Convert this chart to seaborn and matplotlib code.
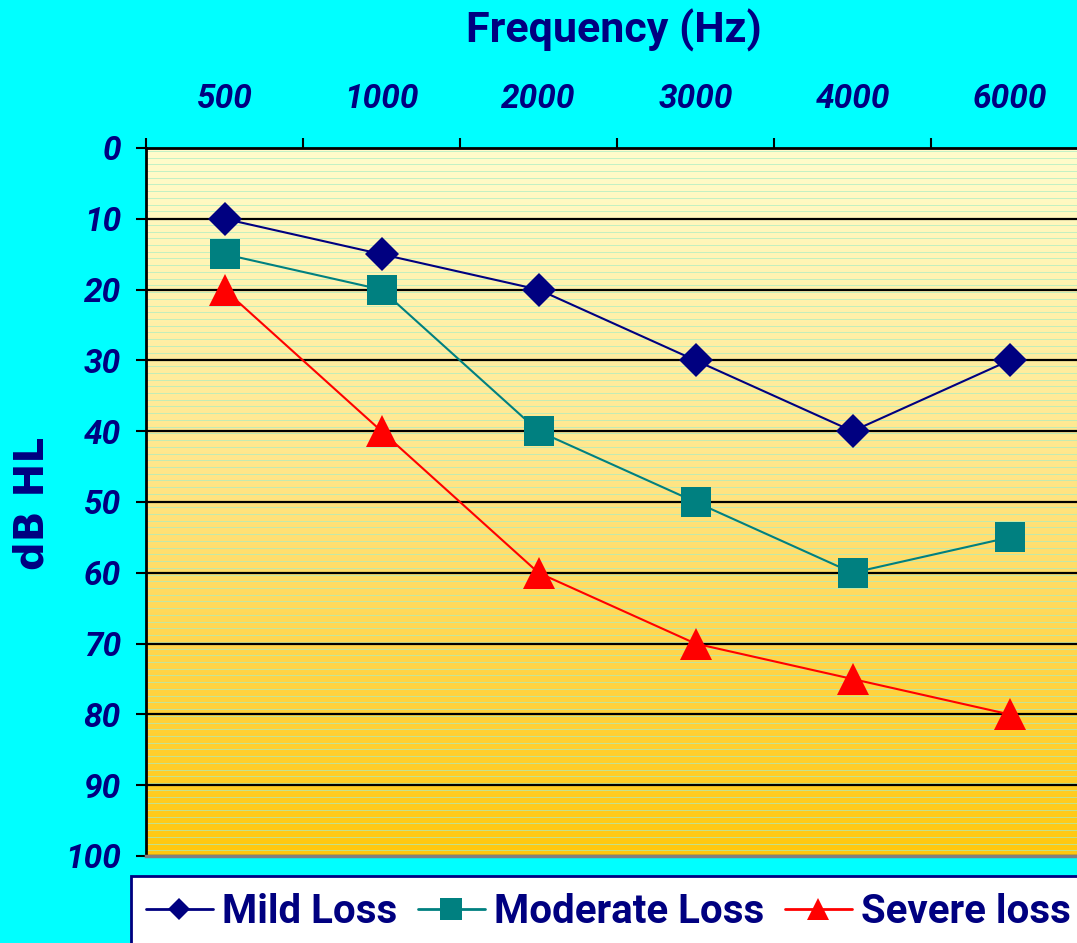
import numpy as np
import pandas as pd
import matplotlib
matplotlib.use("Agg")
import matplotlib.pyplot as plt
import seaborn as sns
from matplotlib.colors import LinearSegmentedColormap
from matplotlib.patches import Rectangle
from matplotlib.lines import Line2D
from matplotlib.font_manager import FontProperties

# ---------------- data ----------------
frequencies = ["500", "1000", "2000", "3000", "4000", "6000"]
mild_loss = [10, 15, 20, 30, 40, 30]
moderate_loss = [15, 20, 40, 50, 60, 55]
severe_loss = [20, 40, 60, 70, 75, 80]
series_names = ["Mild Loss", "Moderate Loss", "Severe loss"]
y_ticks = [0, 10, 20, 30, 40, 50, 60, 70, 80, 90, 100]

df = pd.DataFrame({
    "Frequency": frequencies * 3,
    "dB": mild_loss + moderate_loss + severe_loss,
    "Series": [series_names[0]] * 6 + [series_names[1]] * 6 + [series_names[2]] * 6,
})

# ---------------- style ----------------
NAVY = "#000080"
TEAL = "#008080"
RED = "#FF0000"
CYAN = "#00FFFF"
colors = [NAVY, TEAL, RED]
markers = ["D", "s", "^"]
plot_ms = [17.5, 22, 23]
legend_ms = [11.5, 16, 16.5]

sns.set_theme(style="white")
plt.rcParams["font.family"] = ["Roboto", "DejaVu Sans"]

W, H = 1077, 943
fig = plt.figure(figsize=(W / 100, H / 100), dpi=100, facecolor=CYAN)
L, R, T, B = 146, 1088, 148, 856
ax = fig.add_axes([L / W, 1 - B / H, (R - L) / W, (B - T) / H])
ax.set_facecolor("#FFFCCC")

# background gradient + thin stripes
cmap = LinearSegmentedColormap.from_list(
    "bg", [(0.0, "#FFFCCC"), (0.45, "#FFE68A"), (0.72, "#FFD54A"), (1.0, "#FFC80E")])
grad = np.linspace(0, 1, 256).reshape(-1, 1)
ax.imshow(grad, cmap=cmap, aspect="auto", extent=(-0.5, 5.5, 100, 0),
          zorder=0, interpolation="bilinear")
for yv in np.arange(0.4, 100, 0.95):
    ax.axhline(yv, color="#A6EDC4", lw=0.6, alpha=0.8, zorder=0.5)

n0 = len(ax.lines)
sns.pointplot(data=df, x="Frequency", y="dB", hue="Series", order=frequencies,
              hue_order=series_names, palette=colors, markers=markers,
              linestyles=["-", "-", "-"], errorbar=None, ax=ax, legend=False)
new_lines = ax.lines[n0:]
for ln, ms in zip(new_lines, plot_ms):
    ln.set_markersize(ms)
    ln.set_markeredgewidth(0)
    ln.set_linewidth(1.5)
    ln.set_zorder(3)

ax.set_xlim(-0.5, 5.5)
ax.set_ylim(100, 0)

# grid
ax.yaxis.grid(True, color="black", lw=1.6, zorder=1.5)
ax.xaxis.grid(False)

# spines
for s in ["left", "top"]:
    ax.spines[s].set_color("black")
    ax.spines[s].set_linewidth(2)
ax.spines["right"].set_visible(False)
ax.spines["bottom"].set_color("#808080")
ax.spines["bottom"].set_linewidth(2.5)

# x ticks on top: boundaries as major ticks, labels at centers (minor)
ax.xaxis.tick_top()
ax.set_xticks(np.arange(-0.5, 6, 1))
ax.set_xticklabels([])
ax.set_xticks(range(len(frequencies)), minor=True)
ax.set_xticklabels(frequencies, minor=True)
ax.tick_params(axis="x", which="major", direction="out", length=7, width=1.5,
               color="black", top=True, bottom=False, labeltop=False, labelbottom=False)
ax.tick_params(axis="x", which="minor", length=0, pad=24, labelsize=24,
               labelcolor=NAVY, top=True, bottom=False, labeltop=True, labelbottom=False)
for t in ax.get_xticklabels(minor=True):
    t.set_fontweight("bold")
    t.set_fontstyle("italic")
ax.set_xlabel("")

ax.set_yticks(y_ticks)
ax.set_yticklabels([str(v) for v in y_ticks])
ax.tick_params(axis="y", which="major", direction="out", length=7, width=1.5,
               color="black", left=True, pad=11, labelsize=24, labelcolor=NAVY)
for t in ax.get_yticklabels():
    t.set_fontweight("bold")
    t.set_fontstyle("italic")
ax.set_ylabel("")

# titles
fig.text(614 / W, 1 - 30 / H, "Frequency (Hz)", ha="center", va="center",
         fontsize=31, fontweight="bold", color=NAVY)
fig.text(32 / W, 1 - 503 / H, "dB HL", ha="center", va="center", rotation=90,
         fontsize=29, fontweight="bold", color=NAVY, family=["DejaVu Sans"])

# legend box
fig.add_artist(Rectangle((131 / W, -0.05), (1110 - 131) / W, 0.05 + 1 - 876 / H,
                         transform=fig.transFigure, facecolor="white",
                         edgecolor=NAVY, lw=2, zorder=1))
handles = [Line2D([], [], color=c, marker=m, markersize=ms, lw=2, markeredgewidth=0)
           for c, m, ms in zip(colors, markers, legend_ms)]
leg = fig.legend(handles, series_names, loc="center left",
                 bbox_to_anchor=(146 / W, 1 - 912 / H), ncol=3, frameon=False,
                 prop=FontProperties(family=["Roboto", "DejaVu Sans"], weight="bold", size=29),
                 labelcolor=NAVY, handlelength=1.66, handletextpad=0.22,
                 columnspacing=0.52, borderpad=0, borderaxespad=0, numpoints=1)
leg.set_zorder(2)

fig.savefig("out.png", dpi=100, facecolor=CYAN)
